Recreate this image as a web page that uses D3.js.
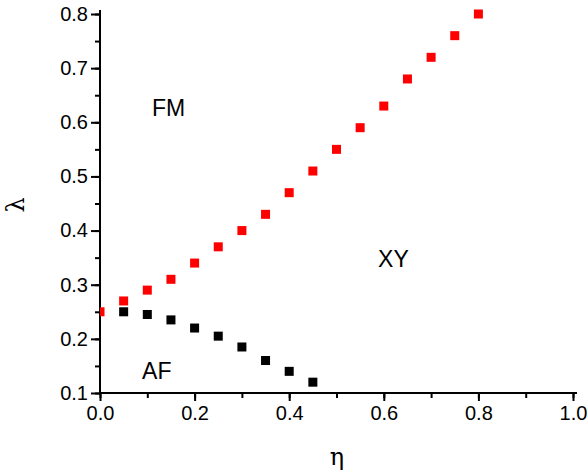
<!DOCTYPE html>
<html>
<head>
<meta charset="utf-8">
<script src="https://cdn.jsdelivr.net/npm/d3@7"></script>
<style>
  body { margin: 0; background: #fff; }
  svg text { font-family: "Liberation Sans", Arial, sans-serif; fill: #000; }
</style>
</head>
<body>
<svg class="chart"></svg>
<script>
var fmEta = [0, 0.05, 0.1, 0.15, 0.2, 0.25, 0.3, 0.35, 0.4, 0.45, 0.5, 0.55, 0.6, 0.65, 0.7, 0.75, 0.8];
var fmLambda = [0.25, 0.27, 0.29, 0.31, 0.34, 0.37, 0.40, 0.43, 0.47, 0.51, 0.55, 0.59, 0.63, 0.68, 0.72, 0.76, 0.80];
var afEta = [0.05, 0.1, 0.15, 0.2, 0.25, 0.3, 0.35, 0.4, 0.45];
var afLambda = [0.25, 0.245, 0.235, 0.22, 0.205, 0.185, 0.16, 0.14, 0.12];
var xTicks = [0, 0.2, 0.4, 0.6, 0.8, 1.0];
var yTicks = [0.1, 0.2, 0.3, 0.4, 0.5, 0.6, 0.7, 0.8];
var regions = [
  {name: "FM", eta: 0.11, lambda: 0.612},
  {name: "XY", eta: 0.588, lambda: 0.333},
  {name: "AF", eta: 0.089, lambda: 0.126}
];

var margin = {top: 14, left: 100};

var svg = d3.select(".chart")
    .attr("width", 587)
    .attr("height", 476);

var chart = svg.append("g")
    .attr("transform", "translate(" + margin.left + "," + margin.top + ")");

var x = d3.scaleLinear().domain([0, 1]).range([0, 473]);
var y = d3.scaleLinear().domain([0.1, 0.8]).range([379, 0]);

chart.append("defs").append("clipPath")
    .attr("id", "plotclip")
  .append("rect")
    .attr("x", 0).attr("y", -10)
    .attr("width", 480).attr("height", 389);

var xMinor = d3.range(0, 1.001, 0.1);
var yMinor = d3.range(0.1, 0.801, 0.05);

var xAxisMinor = d3.axisBottom(x).tickValues(xMinor).tickSize(5).tickFormat("");
var xAxis = d3.axisBottom(x).tickValues(xTicks).tickSize(8).tickPadding(5).tickFormat(d3.format(".1f"));
var yAxisMinor = d3.axisLeft(y).tickValues(yMinor).tickSize(5).tickFormat("");
var yAxis = d3.axisLeft(y).tickValues(yTicks).tickSize(9).tickPadding(3).tickFormat(d3.format(".1f"));

function styleAxis(g) {
  g.select(".domain").remove();
  g.selectAll("line").attr("stroke", "#000").attr("stroke-width", 2);
  g.selectAll("text").style("font-size", "20px").attr("fill", "#000");
}

chart.append("g").attr("transform", "translate(0,379)").call(xAxisMinor).call(styleAxis);
chart.append("g").attr("transform", "translate(0,379)").call(xAxis).call(styleAxis);
chart.append("g").call(yAxisMinor).call(styleAxis);
chart.append("g").call(yAxis).call(styleAxis);

// axis lines
chart.append("line")
    .attr("x1", 0).attr("x2", 477)
    .attr("y1", 379).attr("y2", 379)
    .attr("stroke", "#000").attr("stroke-width", 2);
chart.append("line")
    .attr("x1", 0).attr("x2", 0)
    .attr("y1", -4).attr("y2", 380)
    .attr("stroke", "#000").attr("stroke-width", 2);

var sq = 9;
var pts = chart.append("g").attr("clip-path", "url(#plotclip)");

pts.selectAll(".fm")
    .data(fmEta)
  .enter().append("rect")
    .attr("class", "fm")
    .attr("x", function(d) { return x(d) - sq / 2; })
    .attr("y", function(d, i) { return y(fmLambda[i]) - sq / 2; })
    .attr("width", sq).attr("height", sq)
    .attr("fill", "#ff0000");

pts.selectAll(".af")
    .data(afEta)
  .enter().append("rect")
    .attr("class", "af")
    .attr("x", function(d) { return x(d) - sq / 2; })
    .attr("y", function(d, i) { return y(afLambda[i]) - sq / 2; })
    .attr("width", sq).attr("height", sq)
    .attr("fill", "#000");

chart.selectAll(".region")
    .data(regions)
  .enter().append("text")
    .attr("class", "region")
    .attr("x", function(d) { return x(d.eta); })
    .attr("y", function(d) { return y(d.lambda); })
    .style("font-size", "23px")
    .text(function(d) { return d.name; });

svg.append("text")
    .attr("x", 337).attr("y", 465)
    .attr("text-anchor", "middle")
    .style("font-family", "'DejaVu Serif', serif")
    .style("font-size", "24px")
    .text("η");

svg.append("text")
    .attr("transform", "translate(24,205) rotate(-90)")
    .attr("text-anchor", "middle")
    .style("font-family", "'DejaVu Serif', serif")
    .style("font-size", "24px")
    .text("λ");
</script>
</body>
</html>
